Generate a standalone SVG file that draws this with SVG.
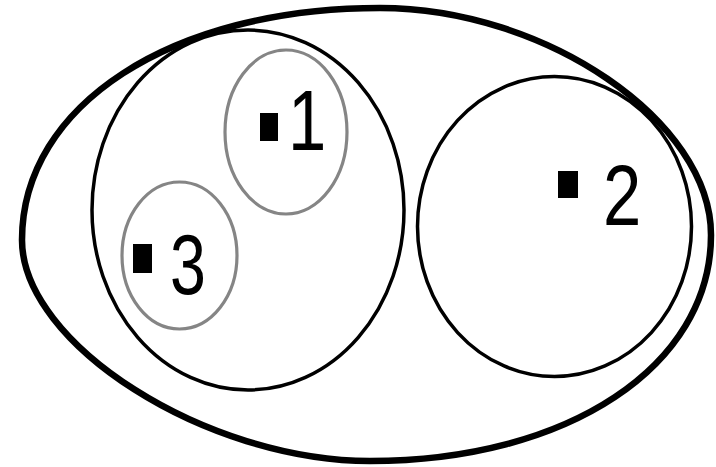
<svg xmlns="http://www.w3.org/2000/svg" width="716" height="467" viewBox="0 0 716 467">
  <style>
    .outer { fill: none; stroke: #000; stroke-width: 6.5; }
    .set { fill: none; stroke: #000; stroke-width: 3.5; }
    .sub { fill: none; stroke: #858585; stroke-width: 3.2; }
    .pt { fill: #000; }
    .lbl { font-family: "Liberation Sans", Arial, sans-serif; font-size: 86px; fill: #000; }
  </style>
  <rect width="716" height="467" fill="#fff"/>
  <g id="outer-set">
    <path class="outer" d="M 380,8 C 545,8 711,121 711,235 C 711,366 568,461 370,461 C 206,461 22,344 22,240 C 22,105 172,8 380,8 Z"/>
  </g>
  <g id="left-set">
    <ellipse class="set" cx="248" cy="210" rx="156" ry="180"/>
  </g>
  <g id="right-set">
    <ellipse class="set" cx="554.5" cy="226.5" rx="137" ry="150"/>
  </g>
  <g id="node-1">
    <ellipse class="sub" cx="286" cy="132" rx="61" ry="82"/>
    <rect class="pt" x="260" y="113" width="18" height="28"/>
    <text class="lbl" transform="translate(288,150) scale(0.8,1)">1</text>
  </g>
  <g id="node-2">
    <rect class="pt" x="558" y="171" width="20" height="27"/>
    <text class="lbl" transform="translate(603,225) scale(0.8,1)">2</text>
  </g>
  <g id="node-3">
    <ellipse class="sub" cx="179.5" cy="255.5" rx="57.5" ry="73.5"/>
    <rect class="pt" x="133" y="244" width="19" height="29"/>
    <text class="lbl" transform="translate(170,294) scale(0.75,1)">3</text>
  </g>
  <g id="connectors"/>
</svg>
